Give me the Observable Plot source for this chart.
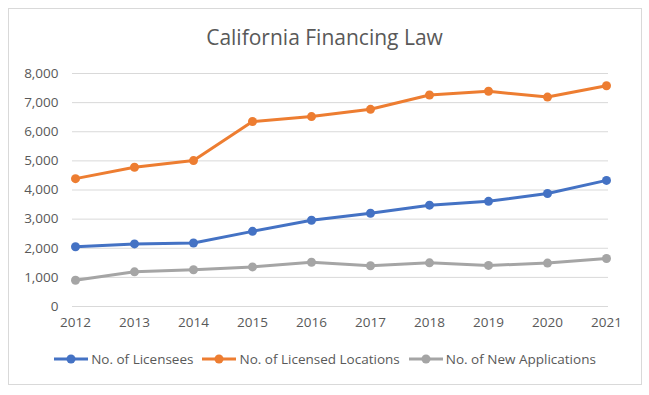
<!DOCTYPE html>
<html>
<head>
<meta charset="utf-8">
<script src="https://cdn.jsdelivr.net/npm/d3@7"></script>
<script src="https://cdn.jsdelivr.net/npm/@observablehq/plot@0.6"></script>
<style>
  body { margin: 0; background: #fff; font-family: "Open Sans", sans-serif; }
  #wrap { position: relative; width: 649px; height: 395px; overflow: hidden; }
  #frame { position: absolute; left: 8px; top: 8px; width: 634px; height: 377px; border: 1px solid #d9d9d9; box-sizing: border-box; }
  #title { position: absolute; left: 0; width: 649px; top: 23px; text-align: center; font-size: 21px; color: #595959; }
  #chart { position: absolute; left: 0; top: 0; }
  #legend { position: absolute; left: 0; width: 649px; top: 350px; display: flex; justify-content: center; gap: 8px; font-size: 13.5px; color: #595959; align-items: center; }
  #legend .item { display: flex; align-items: center; gap: 2px; }
</style>
</head>
<body>
<div id="wrap">
  <div id="frame"></div>
  <div id="chart"></div>
  <div id="title">California Financing Law</div>
  <div id="legend"></div>
</div>
<script>
const years = [2012, 2013, 2014, 2015, 2016, 2017, 2018, 2019, 2020, 2021];
const licensees = [2050, 2150, 2180, 2580, 2960, 3200, 3480, 3610, 3880, 4330];
const locations = [4390, 4780, 5010, 6350, 6520, 6770, 7260, 7390, 7190, 7580];
const applications = [900, 1190, 1260, 1360, 1520, 1400, 1500, 1410, 1490, 1650];
const seriesNames = ["No. of Licensees", "No. of Licensed Locations", "No. of New Applications"];
const seriesColors = ["#4472C4", "#ED7D31", "#A5A5A5"];
const yTicks = [0, 1000, 2000, 3000, 4000, 5000, 6000, 7000, 8000];

const seriesValues = [licensees, locations, applications];
const data = [];
seriesValues.forEach((vals, si) => {
  vals.forEach((v, i) => data.push({ year: years[i], value: v, series: seriesNames[si] }));
});

const chart = Plot.plot({
  width: 649,
  height: 335,
  marginTop: 73,
  marginBottom: 29,
  marginLeft: 72,
  marginRight: 41,
  style: { fontFamily: "Open Sans, sans-serif", fontSize: "13.5px", color: "#595959", background: "transparent" },
  x: { type: "point", domain: years, padding: 0, label: null, tickSize: 0, tickPadding: 11, tickFormat: d => String(d) },
  y: { domain: [0, 8000], ticks: yTicks, label: null, tickSize: 0, tickPadding: 14, tickFormat: d3.format(",") },
  color: { domain: seriesNames, range: seriesColors },
  marks: [
    Plot.gridY(yTicks, { stroke: "#d9d9d9", strokeOpacity: 1, strokeWidth: 1 }),
    Plot.line(data, { x: "year", y: "value", z: "series", stroke: "series", strokeWidth: 3 }),
    Plot.dot(data, { x: "year", y: "value", fill: "series", r: 4.5 })
  ]
});
document.getElementById("chart").appendChild(chart);

const legend = document.getElementById("legend");
seriesNames.forEach((name, i) => {
  const item = document.createElement("div");
  item.className = "item";
  item.innerHTML = `<svg width="36" height="12"><line x1="1" y1="6" x2="35" y2="6" stroke="${seriesColors[i]}" stroke-width="3"/><circle cx="18" cy="6" r="4.5" fill="${seriesColors[i]}"/></svg><span>${name}</span>`;
  legend.appendChild(item);
});
</script>
</body>
</html>
